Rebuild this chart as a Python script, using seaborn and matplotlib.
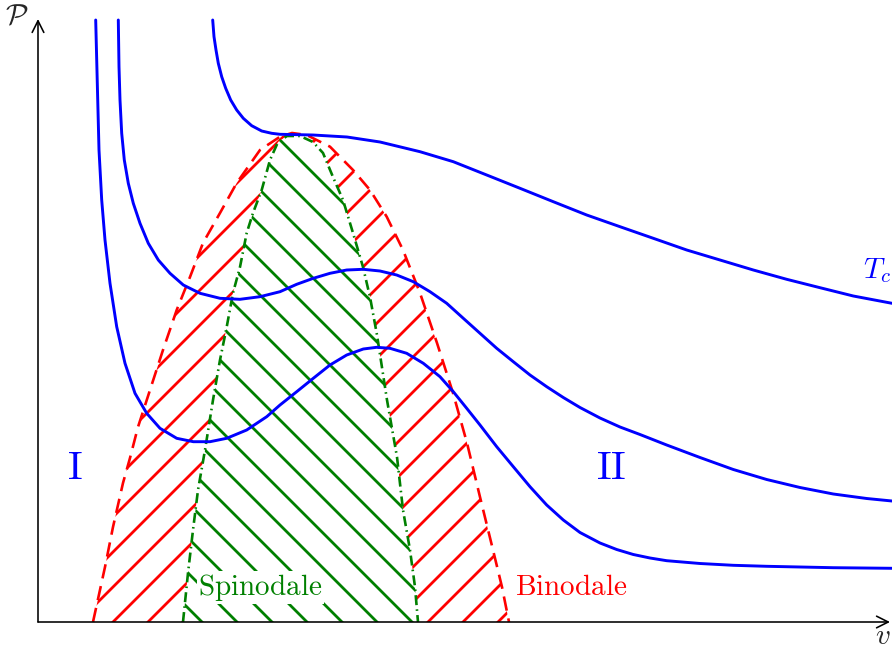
import matplotlib
matplotlib.use("Agg")
import matplotlib.pyplot as plt
import seaborn as sns

sns.set_style("white")
plt.rcParams['mathtext.fontset'] = 'cm'
plt.rcParams['hatch.linewidth'] = 0.95

# isotherms (v, P in arbitrary units)
v_low = [0.577, 0.593, 0.61, 0.637, 0.67, 0.72, 0.787, 0.87, 0.97, 1.087, 1.22, 1.387, 1.553, 1.72,
         1.887, 2.087, 2.287, 2.42, 2.587, 2.753, 2.92, 3.087, 3.253, 3.387, 3.52, 3.687, 3.853, 4.02,
         4.153, 4.287, 4.42, 4.587, 4.753, 4.92, 5.087, 5.253, 5.42, 5.62, 5.787, 5.953, 6.12, 6.287,
         6.62, 6.953, 7.287, 7.62, 7.953, 8.54]
P_low = [6.02, 5.387, 4.72, 4.22, 3.82, 3.387, 2.953, 2.587, 2.287, 2.087, 1.937, 1.837, 1.803, 1.803,
         1.837, 1.92, 2.053, 2.17, 2.303, 2.437, 2.57, 2.67, 2.73, 2.747, 2.737, 2.687, 2.587, 2.453,
         2.303, 2.137, 1.97, 1.753, 1.553, 1.353, 1.17, 1.02, 0.895, 0.79, 0.725, 0.675, 0.64, 0.613,
         0.585, 0.567, 0.557, 0.55, 0.543, 0.537]

v_mid = [0.803, 0.81, 0.82, 0.837, 0.863, 0.903, 0.953, 1.02, 1.103, 1.203, 1.32, 1.453, 1.62, 1.82,
         2.02, 2.22, 2.42, 2.587, 2.753, 2.92, 3.087, 3.253, 3.42, 3.587, 3.753, 3.92, 4.087, 4.253,
         4.42, 4.587, 4.753, 4.92, 5.087, 5.253, 5.42, 5.62, 5.82, 6.02, 6.287, 6.62, 6.953, 7.287,
         7.62, 7.953, 8.287, 8.54]
P_mid = [6.02, 5.553, 5.22, 4.887, 4.62, 4.387, 4.187, 3.987, 3.787, 3.62, 3.487, 3.37, 3.287, 3.237,
         3.227, 3.253, 3.303, 3.377, 3.437, 3.487, 3.52, 3.527, 3.51, 3.47, 3.403, 3.303, 3.187, 3.037,
         2.887, 2.737, 2.603, 2.47, 2.353, 2.245, 2.145, 2.04, 1.95, 1.875, 1.77, 1.645, 1.525, 1.425,
         1.345, 1.28, 1.235, 1.21]

v_crit = [1.747, 1.76, 1.78, 1.803, 1.837, 1.877, 1.927, 1.987, 2.053, 2.137, 2.237, 2.337, 2.42,
          2.75, 3.09, 3.42, 3.82, 4.153, 4.487, 4.82, 5.153, 5.487, 5.82, 6.153, 6.487, 6.82, 7.153,
          7.487, 7.82, 8.153, 8.54]
P_crit = [6.02, 5.853, 5.72, 5.587, 5.453, 5.337, 5.22, 5.12, 5.037, 4.963, 4.91, 4.887, 4.877,
          4.87, 4.85, 4.80, 4.703, 4.603, 4.47, 4.337, 4.203, 4.07, 3.953, 3.837, 3.72, 3.62, 3.52,
          3.427, 3.343, 3.26, 3.187]

# binodal and spinodal curves
v_bin = [0.55, 0.67, 0.75, 0.85, 0.92, 1.00, 1.12, 1.25, 1.387, 1.52, 1.65, 1.82, 1.987, 2.22, 2.42,
         2.54, 2.687, 2.92, 3.15, 3.32, 3.487, 3.65, 3.82, 3.99, 4.15, 4.29, 4.42, 4.55, 4.64, 4.71]
P_bin = [0.0, 0.55, 0.95, 1.39, 1.64, 1.95, 2.32, 2.72, 3.12, 3.45, 3.79, 4.09, 4.39, 4.72, 4.853,
         4.89, 4.87, 4.753, 4.52, 4.32, 4.053, 3.72, 3.29, 2.79, 2.29, 1.79, 1.25, 0.72, 0.35, 0.0]

v_spin = [1.45, 1.50, 1.55, 1.60, 1.67, 1.75, 1.82, 1.887, 1.95, 2.02, 2.087, 2.15, 2.237, 2.32, 2.40,
          2.49, 2.62, 2.75, 2.85, 2.95, 3.05, 3.15, 3.25, 3.32, 3.39, 3.49, 3.59, 3.65, 3.72, 3.77, 3.80]
P_spin = [0.0, 0.49, 0.92, 1.32, 1.72, 2.22, 2.62, 2.95, 3.29, 3.55, 3.89, 4.09, 4.32, 4.62, 4.80,
          4.86, 4.86, 4.80, 4.69, 4.45, 4.22, 3.89, 3.55, 3.25, 2.87, 2.22, 1.65, 1.12, 0.72, 0.35, 0.0]

dpi = 210
fig = plt.figure(figsize=(892 / dpi, 650 / dpi), dpi=dpi)
ax = fig.add_axes([0, 0, 1, 1])

# hatched regions
ax.fill(v_bin, P_bin, facecolor='none', edgecolor='red', hatch='//', linewidth=0, zorder=1)
ax.fill(v_spin, P_spin, facecolor='white', edgecolor='green', hatch='\\\\', linewidth=0, zorder=2)

sns.lineplot(x=v_bin, y=P_bin, sort=False, estimator=None, color='red', lw=0.9,
             linestyle=(0, (5.5, 3)), ax=ax, zorder=3)
sns.lineplot(x=v_spin, y=P_spin, sort=False, estimator=None, color='green', lw=0.9,
             linestyle=(0, (3.8, 1.6, 0.6, 1.6)), ax=ax, zorder=3)

for vv, pp in [(v_low, P_low), (v_mid, P_mid), (v_crit, P_crit)]:
    sns.lineplot(x=vv, y=pp, sort=False, estimator=None, color='blue', lw=1.0, ax=ax, zorder=4)

# axes with arrows
ax.annotate('', xy=(8.52, 0), xytext=(0, 0),
            arrowprops=dict(arrowstyle='->', lw=0.55, color='black', shrinkA=0, shrinkB=0), zorder=5)
ax.annotate('', xy=(0, 6.03), xytext=(0, 0),
            arrowprops=dict(arrowstyle='->', lw=0.55, color='black', shrinkA=0, shrinkB=0), zorder=5)
ax.text(-0.21, 6.06, r'$\mathcal{P}$', fontsize=10, ha='center', va='center')
ax.text(8.53, -0.14, r'$v$', fontsize=10, ha='right', va='center')

# labels
ax.text(0.37, 1.54, r'$\mathrm{I}$', fontsize=14, color='blue', ha='center', va='center')
ax.text(5.73, 1.54, r'$\mathrm{II}$', fontsize=14, color='blue', ha='center', va='center')
ax.text(8.25, 3.44, r'$T_c$', fontsize=10, color='blue', ha='left', va='baseline')
ax.text(1.60, 0.27, r'$\mathrm{Spinodale}$', fontsize=10, color='green', ha='left', va='baseline',
        bbox=dict(facecolor='white', edgecolor='none', pad=0.5), zorder=6)
ax.text(4.77, 0.27, r'$\mathrm{Binodale}$', fontsize=10, color='red', ha='left', va='baseline',
        bbox=dict(facecolor='white', edgecolor='none', pad=0.5), zorder=6)

ax.set_xlim(-0.38, 8.54)
ax.set_ylim(-0.28, 6.22)
ax.axis('off')

fig.savefig('out.png', dpi=dpi)
